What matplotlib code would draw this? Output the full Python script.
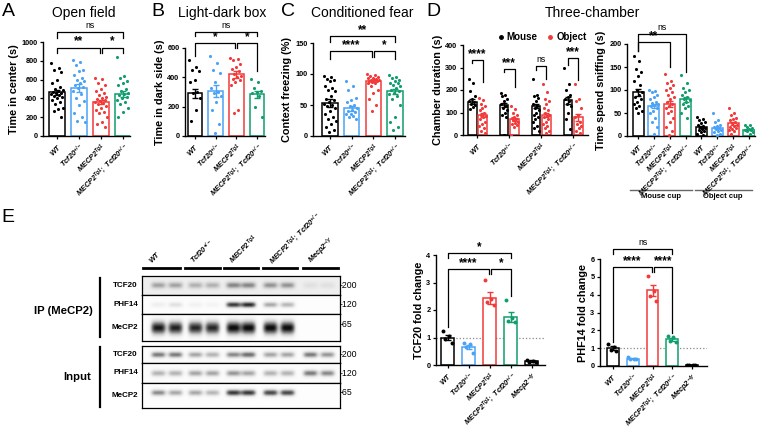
import numpy as np
import matplotlib.pyplot as plt
from matplotlib.lines import Line2D

plt.rcParams['font.family'] = 'Liberation Sans'
plt.rcParams['mathtext.fontset'] = 'custom'
plt.rcParams['mathtext.rm'] = 'Liberation Sans'
plt.rcParams['mathtext.it'] = 'Liberation Sans:italic'
plt.rcParams['mathtext.bf'] = 'Liberation Sans:bold'
plt.rcParams['mathtext.bfit'] = 'Liberation Sans:italic:bold'
plt.rcParams['mathtext.default'] = 'bfit'

BLACK, BLUE, RED, GREEN = '#000000', '#4aa3f5', '#f23a3a', '#109e6c'
COL4 = [BLACK, BLUE, RED, GREEN]
COL5 = COL4 + [BLACK]

geno4 = [r'$WT$', r'$Tcf20^{+/-}$', r'$MECP2^{Tg1}$', r'$MECP2^{Tg1};\ Tcf20^{+/-}$']
geno5 = geno4 + [r'$Mecp2^{-/y}$']

# ---- A: open field
a_mean = [465, 510, 365, 450]
a_sem = [25, 45, 22, 30]
a_pts = [
    [780, 720, 700, 680, 600, 560, 520, 500, 490, 480, 470, 460, 455, 450, 440, 430, 420, 400, 380, 360, 340, 300, 290, 270, 200],
    [810, 790, 760, 700, 690, 650, 620, 600, 580, 560, 540, 520, 510, 480, 450, 400, 370, 330, 240, 200, 160, 145],
    [620, 610, 560, 540, 500, 480, 460, 440, 420, 400, 390, 380, 370, 360, 350, 340, 320, 300, 280, 260, 240, 200, 150, 130, 100],
    [840, 640, 620, 580, 560, 540, 500, 480, 460, 450, 440, 420, 400, 380, 360, 340, 300, 260, 200],
]
# ---- B: light-dark box
b_mean = [290, 305, 420, 285]
b_sem = [30, 40, 25, 25]
b_pts = [
    [520, 470, 450, 440, 380, 370, 300, 290, 260, 180, 100],
    [545, 495, 450, 430, 370, 330, 300, 290, 270, 235, 175, 85, 20],
    [530, 525, 520, 490, 470, 460, 440, 420, 410, 400, 390, 380, 370, 350, 180, 160],
    [390, 370, 330, 310, 300, 290, 270, 200, 130],
]
# ---- C: conditioned fear
c_mean = [53, 45, 89, 72]
c_sem = [6, 4, 2, 4]
c_pts = [
    [97, 95, 92, 90, 88, 80, 78, 75, 72, 65, 60, 58, 55, 52, 50, 48, 45, 40, 35, 30, 28, 25, 20, 15, 10, 7],
    [88, 80, 75, 62, 58, 55, 50, 48, 45, 42, 40, 38, 36, 35, 33, 30, 28],
    [100, 98, 97, 95, 94, 93, 92, 91, 90, 90, 89, 88, 87, 86, 85, 80, 75, 70, 60, 50, 40],
    [98, 95, 93, 90, 88, 86, 85, 82, 80, 78, 75, 72, 70, 68, 65, 60, 50, 30, 22, 15, 10],
]
# ---- D left: chamber duration, mouse vs object
dm_mean = [148, 133, 128, 155]
dm_sem = [12, 10, 10, 15]
do_mean = [88, 70, 88, 78]
do_sem = [10, 7, 8, 15]
dm_pts = [
    [250, 230, 195, 175, 160, 150, 145, 140, 135, 125, 115],
    [185, 180, 175, 160, 150, 140, 130, 120, 110, 100, 90, 80, 0],
    [250, 180, 175, 165, 150, 140, 130, 120, 110, 100, 90, 80, 70, 60, 40, 30, 20],
    [300, 225, 200, 180, 170, 160, 150, 140, 130, 100, 70, 25],
]
do_pts = [
    [165, 155, 140, 130, 120, 110, 100, 90, 85, 80, 70, 60, 50, 40, 30, 20, 10],
    [130, 115, 100, 90, 80, 75, 70, 65, 60, 55, 50, 45, 35, 0],
    [225, 190, 160, 150, 140, 120, 110, 100, 90, 85, 80, 70, 60, 50, 40, 30, 20, 10],
    [225, 160, 150, 120, 90, 80, 60, 50, 40, 30, 20, 10],
]
# ---- D right: sniffing
ds_mean = [95, 65, 70, 80, 20, 18, 28, 14]
ds_sem = [8, 5, 6, 5, 2, 2, 3, 2]
ds_pts = [
    [175, 162, 145, 140, 130, 120, 110, 100, 95, 90, 85, 80, 75, 70, 65, 60, 55, 50],
    [100, 97, 95, 90, 85, 80, 75, 72, 70, 68, 65, 60, 55, 50, 40, 30, 20, 5],
    [135, 120, 115, 110, 105, 100, 95, 90, 85, 80, 75, 70, 65, 60, 55, 50, 40, 30, 20, 10, 2],
    [133, 115, 105, 100, 95, 90, 85, 80, 78, 75, 70, 65, 60, 50, 40],
    [42, 38, 35, 30, 28, 25, 22, 20, 18, 15, 12, 10, 8, 5, 2],
    [50, 35, 30, 25, 22, 20, 18, 15, 12, 10, 8, 5, 2],
    [60, 50, 45, 40, 38, 35, 30, 28, 25, 22, 20, 18, 15, 12, 10, 5],
    [25, 23, 20, 18, 15, 13, 12, 10, 8, 5],
]
# ---- E: western blot quantification
t_mean = [1.0, 0.65, 2.45, 1.75, 0.15]
t_sem = [0.1, 0.08, 0.22, 0.18, 0.03]
t_pts = [[1.25, 1.05, 0.95, 0.8], [0.8, 0.75, 0.65, 0.45], [3.1, 2.4, 2.3, 2.2],
         [2.35, 1.7, 1.6, 1.55], [0.2, 0.15, 0.12, 0.1]]
p_mean = [1.0, 0.4, 4.25, 1.5, 0.07]
p_sem = [0.1, 0.03, 0.3, 0.08, 0.01]
p_pts = [[1.25, 1.05, 0.9, 0.85], [0.5, 0.42, 0.4, 0.38], [5.05, 4.2, 3.9, 3.65],
         [1.7, 1.6, 1.4, 1.35], [0.08, 0.07, 0.06, 0.05]]

# blot band darkness per lane (2 lanes per genotype)
blot_rows = ['TCF20', 'PHF14', 'MeCP2']
ip_bands = [
    [0.35, 0.35, 0.3, 0.3, 0.45, 0.45, 0.4, 0.4, 0.08, 0.08],
    [0.12, 0.2, 0.1, 0.08, 0.85, 0.9, 0.45, 0.4, 0.0, 0.0],
    [0.95, 0.92, 0.9, 0.9, 1.0, 1.0, 1.0, 1.0, 0.0, 0.0],
]
in_bands = [
    [0.6, 0.6, 0.45, 0.4, 0.55, 0.65, 0.45, 0.45, 0.6, 0.5],
    [0.4, 0.4, 0.45, 0.45, 0.5, 0.45, 0.4, 0.4, 0.6, 0.55],
    [0.55, 0.45, 0.45, 0.4, 0.85, 0.85, 0.8, 0.8, 0.0, 0.0],
]
mw = ['200', '120', '65']

W, H = 760, 432
fig = plt.figure(figsize=(7.6, 4.32), dpi=100)

ov = fig.add_axes([0, 0, 1, 1])
ov.set_xlim(0, W)
ov.set_ylim(H, 0)
ov.axis('off')


def box(l, t, r, b):
    return fig.add_axes([l / W, 1 - b / H, (r - l) / W, (b - t) / H])


def jit(n, w):
    return ((np.arange(n) * 0.618) % 1 - 0.5) * w


def style(ax, xlim, ylim, yticks, ylabel, xt, xl, xfs=5.6):
    ax.set_xlim(*xlim)
    ax.set_ylim(*ylim)
    ax.set_yticks(yticks)
    ax.set_xticks(xt)
    ax.set_xticklabels(xl, rotation=45, ha='right', rotation_mode='anchor', fontsize=xfs)
    ax.set_ylabel(ylabel, fontsize=7.8, fontweight='bold', labelpad=2)
    for s in ['top', 'right']:
        ax.spines[s].set_visible(False)
    for s in ['left', 'bottom']:
        ax.spines[s].set_linewidth(1.0)
    ax.tick_params(length=2.5, width=0.9, pad=1.5, labelsize=5.3)
    for t in ax.get_yticklabels():
        t.set_fontweight('bold')
    ax.patch.set_alpha(0)


def bars(ax, xs, means, sems, pts, cols, width=0.7, ms=5):
    for x, m, s, p, c in zip(xs, means, sems, pts, cols):
        ax.bar(x, m, width, facecolor='white', edgecolor=c, linewidth=1.1, zorder=2)
        ax.scatter(x + jit(len(p), width * 0.8), p, s=ms, color=c, linewidths=0, zorder=3)
        ax.errorbar(x, m, yerr=s, color=c, capsize=2, elinewidth=1, capthick=1, zorder=4)


def sig(ax, x1, x2, y, y1, y2, txt):
    ax.plot([x1, x1, x2, x2], [y1, y, y, y2], color='k', lw=0.9, clip_on=False)
    ns = txt == 'ns'
    ax.annotate(txt, ((x1 + x2) / 2, y), xytext=(0, 1.5 if ns else 0), textcoords='offset points',
                ha='center', va='bottom', fontsize=6.3 if ns else 8.5,
                fontweight='normal' if ns else 'bold', annotation_clip=False)


x4 = np.arange(4)
x5 = np.arange(5)

# A
ax = box(43, 42, 130, 136)
bars(ax, x4, a_mean, a_sem, a_pts, COL4)
style(ax, (-0.64, 3.32), (0, 1000), range(0, 1001, 200), 'Time in center (s)', x4, geno4)
sig(ax, 0, 3, 1105, 1040, 1040, 'ns')
sig(ax, 0, 1.95, 940, 880, 880, '**')
sig(ax, 2.05, 3, 940, 880, 880, '*')

# B
ax = box(185, 48, 265, 136)
bars(ax, x4, b_mean, b_sem, b_pts, COL4)
style(ax, (-0.48, 3.39), (0, 600), range(0, 601, 200), 'Time in dark side (s)', x4, geno4)
sig(ax, 0, 3, 709, 680, 680, 'ns')
sig(ax, 0, 1.95, 634, 545, 598, '*')
sig(ax, 2.05, 3, 634, 598, 440, '*')

# C
ax = box(313, 43, 405, 136)
bars(ax, x4, c_mean, c_sem, c_pts, COL4)
style(ax, (-0.78, 3.46), (0, 150), range(0, 151, 50), 'Context freezing (%)', x4, geno4)
sig(ax, 0, 3, 161, 152, 152, '**')
sig(ax, 0, 1.95, 137, 125, 128, '****')
sig(ax, 2.05, 3, 137, 128, 125, '*')

# D left
ax = box(463, 45, 588, 135)
gx = np.arange(4) * 2.77
bars(ax, gx - 0.45, dm_mean, dm_sem, dm_pts, [BLACK] * 4, width=0.75)
bars(ax, gx + 0.45, do_mean, do_sem, do_pts, [RED] * 4, width=0.75)
style(ax, (-1.26, 9.61), (0, 400), range(0, 401, 100), 'Chamber duration (s)', gx, geno4)
for g, top, l1, l2, t in zip(gx, [333, 292, 306, 343], [318, 281, 289, 311],
                             [237, 215, 247, 244], ['****', '***', 'ns', '***']):
    sig(ax, g - 0.45, g + 0.45, top, l1, l2, t)
hand = [Line2D([], [], ls='none', marker='o', ms=2.5, color=c) for c in [BLACK, RED]]
ax.legend(hand, ['Mouse', 'Object'], ncol=2, loc='lower center', bbox_to_anchor=(0.63, 1.02),
          frameon=False, prop={'weight': 'bold', 'size': 7}, handletextpad=0.2,
          columnspacing=0.9, handlelength=0.8, borderpad=0.1, borderaxespad=0)

# D right
ax = box(627, 44, 755, 136)
x8 = np.arange(8)
bars(ax, x8, ds_mean, ds_sem, ds_pts, COL4 + COL4)
style(ax, (-0.7, 7.38), (0, 200), range(0, 201, 50), 'Time spend sniffing (s)', x8, geno4 + geno4,
      xfs=4.8)
sig(ax, 0, 3, 222, 184, 140, 'ns')
sig(ax, 0, 2, 204, 184, 150, '**')

# E bar charts
ax = box(436, 255, 545, 365)
bars(ax, x5, t_mean, t_sem, t_pts, COL5, width=0.62, ms=8)
ax.axhline(1, ls=':', color='#888888', lw=0.9, zorder=1)
style(ax, (-0.57, 4.62), (0, 4), range(0, 5), 'TCF20 fold change', x5, geno5)
sig(ax, 0, 3, 4.07, 3.9, 3.9, '*')
sig(ax, 0, 1.95, 3.5, 1.4, 3.3, '****')
sig(ax, 2.05, 3, 3.5, 3.3, 2.5, '*')

ax = box(600, 259, 707, 366)
bars(ax, x5, p_mean, p_sem, p_pts, COL5, width=0.6, ms=8)
ax.axhline(1, ls=':', color='#888888', lw=0.9, zorder=1)
style(ax, (-0.66, 4.76), (0, 6), range(0, 7), 'PHF14 fold change', x5, geno5)
sig(ax, 0, 3, 6.56, 6.3, 6.3, 'ns')
sig(ax, 0, 1.95, 5.55, 1.35, 5.27, '****')
sig(ax, 2.05, 3, 5.55, 5.27, 1.85, '****')

# blot
lane_x = [16, 33, 53, 70, 91, 106, 128, 145, 168, 185]


def blot(ax, bands, bg, thick, cy):
    h, w = 40, 198
    yy = np.arange(h)[:, None]
    xx = np.arange(w)[None, :]
    img = np.full((h, w), bg)
    for x0, v in zip(lane_x, bands):
        img = img + v * np.exp(-((xx - x0) / 7.5) ** 4) * np.exp(-((yy - cy * h) / (thick * h)) ** 2)
    ax.imshow(np.clip(img, 0, 1), cmap='Greys', vmin=0, vmax=1.05, aspect='auto',
              interpolation='bilinear')
    ax.set_xticks([])
    ax.set_yticks([])
    for s in ax.spines.values():
        s.set_linewidth(0.9)


ip_rows = [(276, 295), (295, 314), (314, 341)]
in_rows = [(346, 363), (363, 383), (383, 408)]
ip_par = [(0.14, 0.16, 0.5), (0.02, 0.15, 0.5), (0.02, 0.24, 0.5)]
in_par = [(0.03, 0.18, 0.5), (0.03, 0.16, 0.5), (0.02, 0.12, 0.4)]
for rows, bands, par in [(ip_rows, ip_bands, ip_par), (in_rows, in_bands, in_par)]:
    for (t, b), bd, (bg, th, cy), name, m in zip(rows, bands, par, blot_rows, mw):
        blot(box(142, t, 340, b), bd, bg, th, cy)
        ov.text(138, (t + b) / 2, name, ha='right', va='center', fontsize=5.8, fontweight='bold')
        ov.text(340, (t + b) / 2 - (3 if name == 'MeCP2' else 0), '-' + m, ha='left', va='center', fontsize=6.3)

ov.plot([100, 100], [278, 337], color='k', lw=1.6)
ov.plot([100, 100], [347, 407], color='k', lw=1.6)
ov.text(93, 311, 'IP (MeCP2)', ha='right', va='center', fontsize=8.2, fontweight='bold')
ov.text(91, 377, 'Input', ha='right', va='center', fontsize=8.2, fontweight='bold')
segs = [(143, 180), (185, 220), (224, 258), (263, 297), (303, 338)]
for (l, r), lab in zip(segs, geno5):
    ov.plot([l, r], [268, 268], color='k', lw=2)
    ov.text(l + 9, 264, lab, rotation=45, ha='left', va='baseline', rotation_mode='anchor', fontsize=5.2)

# group lines under three-chamber sniffing
ov.plot([630, 692], [190, 190], color='#666666', lw=1)
ov.plot([695, 752], [190, 190], color='#666666', lw=1)
ov.text(661, 197, 'Mouse cup', ha='center', va='center', fontsize=5.5, fontweight='bold')
ov.text(723, 197, 'Object cup', ha='center', va='center', fontsize=5.5, fontweight='bold')

# titles and panel letters
for x, t in [(84, 'Open field'), (222, 'Light-dark box'), (362, 'Conditioned fear'), (592, 'Three-chamber')]:
    ov.text(x, 13, t, ha='center', va='center', fontsize=10)
for x, y, t in [(8, 12, 'A'), (158, 12, 'B'), (288, 12, 'C'), (433, 12, 'D'), (8, 218, 'E')]:
    ov.text(x, y, t, ha='center', va='center', fontsize=14)

fig.savefig('out.png', dpi=100)
